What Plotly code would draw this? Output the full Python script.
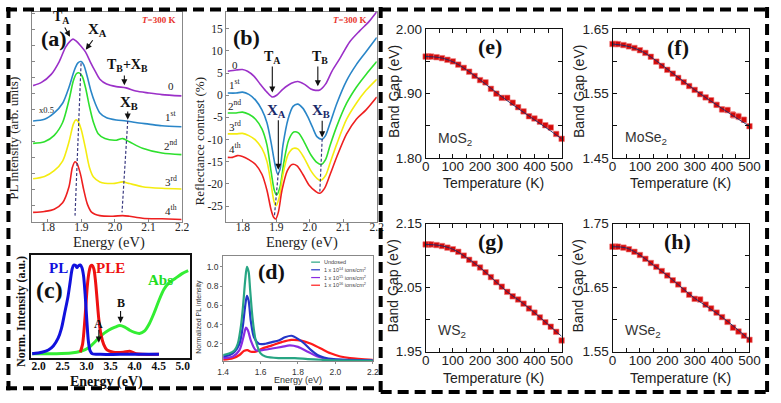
import plotly.graph_objects as go

W, H = 781, 403
SERIF = "Liberation Serif, Times New Roman, serif"
SANS = "Liberation Sans, Arial, sans-serif"

# ---------------- (a) PL spectra, arb. units (offset curves) ----------------
a0_E = [1.756,1.781,1.810,1.834,1.853,1.868,1.875,1.883,1.897,1.912,1.926,1.941,1.955,1.975,2.004,2.033,2.062,2.101,2.140,2.198]
a0_I = [42.4,43.4,45.9,49.9,54.4,56.4,56.9,56.4,54.9,52.9,49.9,46.9,44.4,42.9,42.1,41.7,40.7,40.1,39.6,39.2]
a1_E = [1.756,1.790,1.819,1.844,1.863,1.878,1.889,1.899,1.907,1.917,1.928,1.941,1.955,1.975,2.004,2.033,2.062,2.101,2.140,2.198]
a1_I = [31.4,31.9,33.9,36.9,41.9,46.9,49.4,49.9,48.9,45.4,40.9,36.9,33.9,32.4,31.7,31.4,30.9,30.4,29.9,29.6]
a2_E = [1.756,1.790,1.819,1.844,1.863,1.876,1.885,1.892,1.902,1.912,1.924,1.936,1.950,1.970,2.004,2.023,2.043,2.082,2.140,2.198]
a2_I = [24.4,24.9,26.9,30.9,37.9,43.9,46.1,46.4,45.4,41.9,35.9,30.9,27.4,25.9,25.4,25.9,24.9,22.9,21.4,20.9]
a3_E = [1.756,1.790,1.819,1.844,1.863,1.876,1.883,1.889,1.899,1.912,1.924,1.936,1.955,1.994,2.023,2.043,2.082,2.140,2.198]
a3_I = [13.4,14.1,15.9,18.9,24.9,30.4,31.7,31.4,28.9,22.9,16.9,13.9,12.4,11.9,12.4,11.9,10.9,10.4,10.2]
a4_E = [1.756,1.790,1.819,1.844,1.863,1.873,1.881,1.887,1.897,1.907,1.918,1.931,1.955,1.994,2.023,2.043,2.082,2.140,2.198]
a4_I = [2.9,3.2,3.9,5.9,10.9,16.9,18.7,18.1,14.9,9.9,5.4,2.9,1.9,1.7,1.9,1.7,1.1,0.9,0.7]
layer_labels = ["0", "1<sup>st</sup>", "2<sup>nd</sup>", "3<sup>rd</sup>", "4<sup>th</sup>"]
layer_colors = ["#9b30c8", "#2a86c8", "#2ee02e", "#f4ec10", "#ee2020"]

# ---------------- (b) Reflectance contrast (%) ----------------
b0_E = [1.755,1.780,1.799,1.814,1.833,1.852,1.872,1.888,1.901,1.920,1.945,1.964,1.983,2.003,2.017,2.030,2.047,2.066,2.090,2.119,2.149,2.178,2.200]
b0_R = [5.4,5.7,5.8,5.4,4.3,2.5,0.7,-0.4,0.0,1.4,2.7,3.1,2.5,1.4,1.1,1.2,2.5,5.4,8.3,12.0,14.5,16.7,18.8]
b1_E = [1.755,1.780,1.799,1.818,1.838,1.857,1.872,1.884,1.896,1.904,1.911,1.920,1.935,1.950,1.964,1.979,1.993,2.008,2.022,2.037,2.047,2.061,2.081,2.110,2.139,2.168,2.200]
b1_R = [0.5,0.5,0.7,0.2,-1.1,-3.3,-6.2,-10.5,-15.6,-17.8,-16.7,-11.2,-5.4,-2.5,-2.0,-2.9,-4.7,-7.2,-9.4,-9.9,-9.1,-6.2,-1.8,3.3,6.9,9.8,13.0]
b2_E = [1.755,1.780,1.799,1.818,1.838,1.857,1.872,1.884,1.894,1.901,1.911,1.923,1.937,1.952,1.966,1.983,2.003,2.022,2.034,2.047,2.061,2.081,2.110,2.139,2.168,2.200]
b2_R = [-4.0,-4.0,-3.8,-4.3,-5.4,-7.6,-11.2,-17.0,-21.4,-22.5,-20.7,-14.9,-10.1,-8.3,-8.5,-10.5,-13.4,-15.2,-15.6,-14.5,-11.2,-6.9,-1.8,1.8,4.7,7.6]
b3_E = [1.755,1.780,1.799,1.818,1.838,1.857,1.872,1.884,1.893,1.899,1.908,1.920,1.935,1.950,1.964,1.983,2.003,2.022,2.032,2.047,2.061,2.081,2.110,2.139,2.168,2.200]
b3_R = [-8.7,-8.7,-8.6,-9.1,-10.1,-12.0,-14.9,-19.9,-23.9,-24.9,-23.2,-17.8,-13.4,-12.0,-12.1,-14.1,-17.0,-18.8,-19.2,-18.1,-15.2,-10.9,-5.4,-1.8,1.1,3.6]
b4_E = [1.755,1.769,1.784,1.799,1.818,1.838,1.857,1.872,1.884,1.892,1.898,1.906,1.917,1.933,1.947,1.962,1.979,1.998,2.018,2.030,2.044,2.061,2.081,2.110,2.139,2.168,2.200]
b4_R = [-14.0,-14.0,-13.6,-13.8,-14.5,-15.6,-17.8,-21.4,-25.7,-27.5,-27.9,-26.4,-21.4,-17.0,-15.6,-15.9,-17.8,-20.3,-21.7,-22.1,-21.0,-17.8,-13.8,-8.7,-5.4,-3.3,-0.4]
b_ticks = [-25, -20, -15, -10, -5, 0, 5, 10, 15]

# ---------------- (c) PL / PLE / Abs ----------------
c_pl_E = [1.865,2.068,2.203,2.305,2.406,2.474,2.542,2.609,2.657,2.697,2.731,2.765,2.799,2.826,2.867,2.900,2.934,2.968,3.002,3.036,3.070,3.117,3.286,3.693,4.505]
c_pl_I = [0.007,0.024,0.049,0.094,0.181,0.286,0.460,0.634,0.808,0.948,0.993,0.990,0.965,0.983,0.993,0.965,0.878,0.669,0.390,0.146,0.042,0.007,0.0,0.0,0.0]
c_ple_E = [2.867,2.914,2.948,2.982,3.016,3.049,3.083,3.117,3.151,3.185,3.219,3.253,3.300,3.354,3.422,3.557,3.761,3.896,4.031,4.167,4.505]
c_ple_I = [0.024,0.111,0.286,0.530,0.774,0.913,0.983,0.990,0.948,0.808,0.599,0.390,0.216,0.111,0.049,0.024,0.024,0.035,0.007,0.0,0.0]
c_abs_E = [1.865,2.339,2.677,2.880,3.049,3.185,3.320,3.456,3.591,3.693,3.794,3.896,3.997,4.099,4.201,4.302,4.404,4.505,4.607,4.708,4.844,4.979,5.114]
c_abs_I = [0.007,0.007,0.014,0.035,0.077,0.146,0.216,0.268,0.303,0.321,0.303,0.268,0.244,0.233,0.258,0.338,0.460,0.599,0.721,0.791,0.843,0.895,0.930]
c_ticks = [2.0, 2.5, 3.0, 3.5, 4.0, 4.5, 5.0]

# ---------------- (d) Normalized PL vs dose ----------------
d_und_E = [1.4,1.435,1.461,1.478,1.496,1.508,1.518,1.527,1.536,1.544,1.557,1.574,1.6,1.626,1.696,1.783,1.852,1.922,1.991,2.2]
d_und_I = [0.083,0.1,0.133,0.2,0.4,0.633,0.867,1.0,0.95,0.767,0.467,0.233,0.1,0.067,0.05,0.05,0.04,0.033,0.027,0.023]
d14_E = [1.4,1.435,1.461,1.487,1.504,1.518,1.527,1.536,1.548,1.565,1.591,1.626,1.661,1.696,1.730,1.765,1.8,1.835,1.870,1.904,1.939,1.991,2.2]
d14_I = [0.067,0.083,0.117,0.2,0.367,0.6,0.7,0.65,0.433,0.267,0.2,0.2,0.217,0.233,0.267,0.283,0.25,0.2,0.133,0.083,0.057,0.04,0.027]
d15_E = [1.4,1.452,1.487,1.508,1.522,1.532,1.548,1.574,1.609,1.661,1.713,1.757,1.8,1.852,1.904,1.957,2.2]
d15_I = [0.05,0.067,0.133,0.267,0.367,0.34,0.233,0.133,0.133,0.15,0.167,0.183,0.167,0.117,0.067,0.04,0.023]
d16_E = [1.4,1.452,1.487,1.513,1.530,1.548,1.574,1.609,1.661,1.713,1.765,1.817,1.870,1.922,1.974,2.026,2.078,2.2]
d16_I = [0.033,0.05,0.083,0.127,0.133,0.117,0.117,0.15,0.183,0.217,0.24,0.233,0.2,0.15,0.1,0.067,0.05,0.033]
d_names = ["Undosed", "1 x 10<sup>14</sup> ions/cm<sup>2</sup>", "1 x 10<sup>15</sup> ions/cm<sup>2</sup>", "1 x 10<sup>16</sup> ions/cm<sup>2</sup>"]
d_colors = ["#27a583", "#2436c8", "#8a2be2", "#ff1a1a"]

# ---------------- (e)-(h) Band gap vs temperature ----------------
T = [0,10,20,40,60,80,100,120,140,160,180,200,220,240,260,280,300,320,340,360,380,400,420,440,460,480,500]
Eg_MoS2 = [1.9575,1.9575,1.9575,1.9565,1.955,1.9525,1.950,1.945,1.940,1.934,1.9275,1.921,1.9175,1.9075,1.900,1.8935,1.8935,1.886,1.879,1.8725,1.865,1.8615,1.8565,1.851,1.8475,1.8375,1.830]
Eg_MoSe2 = [1.627,1.627,1.6268,1.6253,1.6233,1.6208,1.6173,1.6132,1.6072,1.5996,1.5931,1.587,1.581,1.5744,1.5679,1.5618,1.5558,1.5492,1.5442,1.5397,1.5326,1.5256,1.5246,1.5171,1.5146,1.5095,1.4995]
err_MoSe2 = [0.001,0.001,0.001,0.001,0.001,0.001,0.001,0.001,0.001,0.001,0.001,0.001,0.001,0.001,0.001,0.001,0.002,0.002,0.002,0.003,0.004,0.004,0.004,0.005,0.005,0.004,0.003]
Eg_WS2 = [2.1175,2.1175,2.1175,2.1165,2.115,2.1125,2.110,2.106,2.100,2.0935,2.0875,2.0815,2.074,2.0665,2.0585,2.0515,2.0435,2.0365,2.0315,2.025,2.0175,2.011,2.0035,1.996,1.989,1.981,1.9675]
Eg_WSe2 = [1.714,1.714,1.714,1.7125,1.710,1.706,1.701,1.695,1.6885,1.6825,1.676,1.669,1.6615,1.655,1.6465,1.639,1.6325,1.6315,1.6235,1.6175,1.611,1.604,1.5965,1.5875,1.5815,1.575,1.5685]
T_fit = [0,50,100,150,200,250,300,350,400,450,500]
fit_MoS2 = [1.9575,1.956,1.9495,1.937,1.9215,1.905,1.889,1.874,1.8595,1.845,1.830]
fit_MoSe2 = [1.627,1.624,1.617,1.604,1.588,1.572,1.556,1.541,1.527,1.513,1.4995]
fit_WS2 = [2.1175,2.116,2.110,2.097,2.0815,2.0625,2.0435,2.028,2.011,1.9925,1.974]
fit_WSe2 = [1.714,1.712,1.701,1.685,1.669,1.651,1.6335,1.619,1.604,1.587,1.5685]

# ---------------- helpers ----------------
def fx(p):
    return p / W

def fy(p):
    return 1 - p / H

fig = go.Figure()

def line(x, y, color, width, ax, ay, shape="spline"):
    fig.add_trace(go.Scatter(x=x, y=y, mode="lines", xaxis=ax, yaxis=ay,
                             line=dict(color=color, width=width, shape=shape, smoothing=0.8),
                             hoverinfo="skip", showlegend=False))

# (a)
for E, I, c in zip([a0_E, a1_E, a2_E, a3_E, a4_E], [a0_I, a1_I, a2_I, a3_I, a4_I], layer_colors):
    line(E, I, c, 1.6, "x", "y")
# (b)
for E, R, c in zip([b0_E, b1_E, b2_E, b3_E, b4_E], [b0_R, b1_R, b2_R, b3_R, b4_R], layer_colors):
    line(E, R, c, 1.6, "x2", "y2")
# (c)
line(c_abs_E, c_abs_I, "#33ee33", 3, "x3", "y3")
line(c_ple_E, c_ple_I, "#ee1111", 3, "x3", "y3")
line(c_pl_E, c_pl_I, "#1111dd", 3, "x3", "y3")
# (d)
for E, I, c in zip([d16_E, d15_E, d14_E, d_und_E], [d16_I, d15_I, d14_I, d_und_I], d_colors[::-1]):
    line(E, I, c, 2.2, "x4", "y4")

# (e)-(h)
bg = [(Eg_MoS2, fit_MoS2, None, "x5", "y5"), (Eg_MoSe2, fit_MoSe2, err_MoSe2, "x6", "y6"),
      (Eg_WS2, fit_WS2, None, "x7", "y7"), (Eg_WSe2, fit_WSe2, None, "x8", "y8")]
for Eg, fit, err, ax, ay in bg:
    fig.add_trace(go.Scatter(x=T, y=Eg, mode="markers", xaxis=ax, yaxis=ay, cliponaxis=False,
                             marker=dict(symbol="square", size=5.5, color="#d40a0a",
                                         line=dict(color="rgba(240,120,120,0.6)", width=1)),
                             error_y=(dict(type="data", array=err, color="rgba(235,110,110,0.7)",
                                           thickness=1, width=2) if err else None),
                             showlegend=False, hoverinfo="skip"))
    fig.add_trace(go.Scatter(x=T_fit, y=fit, mode="lines", xaxis=ax, yaxis=ay,
                             line=dict(color="#1a2a6a", width=0.9, shape="spline"),
                             showlegend=False, hoverinfo="skip"))

# ---------------- axes ----------------
def dom(x0, x1, y0, y1):
    return dict(x=[fx(x0), fx(x1)], y=[fy(y1), fy(y0)])

def base_axis(color, width):
    return dict(showline=True, linecolor=color, linewidth=width, mirror=True,
                showgrid=False, zeroline=False, fixedrange=True)

da = dom(27, 180, 5, 223)
db = dom(225, 379, 5, 223)
dc = dom(26, 188, 258, 365)
dd = dom(222, 375, 259, 368)
de = dom(429, 568, 23, 157)
df = dom(620, 760, 23, 157)
dg = dom(429, 568, 225, 358)
dh = dom(620, 760, 225, 358)

lay = {}
e_ticks = [1.8, 1.9, 2.0, 2.1, 2.2]
lay["xaxis"] = dict(base_axis("#888", 1), domain=da["x"], anchor="y", range=[1.754, 2.2],
                    tickvals=e_ticks, ticktext=["1.8", "1.9", "2.0", "2.1", "2.2"],
                    ticks="inside", ticklen=3, tickcolor="#888", ticklabelstandoff=-5,
                    tickfont=dict(family=SERIF, size=11.5, color="#222"))
lay["yaxis"] = dict(base_axis("#888", 1), domain=da["y"], anchor="x", range=[0, 65.4],
                    dtick=5, ticks="inside", ticklen=3, tickcolor="#888", showticklabels=False)
lay["xaxis2"] = dict(base_axis("#888", 1), domain=db["x"], anchor="y2", range=[1.75, 2.2],
                     tickvals=e_ticks, ticktext=["1.8", "1.9", "2.0", "2.1", "2.2"],
                     ticks="inside", ticklen=3, tickcolor="#888", ticklabelstandoff=-5,
                     tickfont=dict(family=SERIF, size=11.5, color="#222"))
lay["yaxis2"] = dict(base_axis("#888", 1), domain=db["y"], anchor="x2", range=[-28.5, 18.8],
                     tickvals=b_ticks, ticktext=[str(v) for v in b_ticks],
                     ticks="inside", ticklen=3, tickcolor="#888",
                     tickfont=dict(family=SERIF, size=11.5, color="#222"))
lay["xaxis3"] = dict(base_axis("#111", 2), domain=dc["x"], anchor="y3", range=[1.85, 5.15],
                     tickvals=c_ticks, ticktext=["<b>%.1f</b>" % v for v in c_ticks],
                     ticks="", ticklabelstandoff=-4, tickfont=dict(family=SERIF, size=11.5, color="#111"))
lay["yaxis3"] = dict(base_axis("#111", 2), domain=dc["y"], anchor="x3", range=[-0.045, 1.10],
                     showticklabels=False, ticks="")
lay["xaxis4"] = dict(base_axis("#888", 1), domain=dd["x"], anchor="y4", range=[1.4, 2.2],
                     tickvals=[1.4, 1.6, 1.8, 2.0, 2.2], ticktext=["1.4", "1.6", "1.8", "2.0", "2.2"],
                     ticks="outside", ticklen=2, tickcolor="#888",
                     tickfont=dict(family=SANS, size=8.5, color="#333"))
lay["yaxis4"] = dict(base_axis("#888", 1), domain=dd["y"], anchor="x4", range=[0.017, 1.11],
                     tickvals=[0.2, 0.4, 0.6, 0.8, 1.0], ticktext=["0.2", "0.4", "0.6", "0.8", "1.0"],
                     ticks="outside", ticklen=2, tickcolor="#888",
                     tickfont=dict(family=SANS, size=8.5, color="#333"))

panels = [("5", de, [1.80, 2.00]), ("6", df, [1.45, 1.65]), ("7", dg, [1.95, 2.15]), ("8", dh, [1.55, 1.75])]
for k, d, yr in panels:
    lay["xaxis" + k] = dict(base_axis("#111", 1), domain=d["x"], anchor="y" + k, range=[0, 500],
                            tickvals=[0, 100, 200, 300, 400, 500], ticks="inside", ticklen=4,
                            tickcolor="#111", mirror="ticks", ticklabelstandoff=-4,
                            minor=dict(ticks="inside", ticklen=4, dtick=50, tickcolor="#111"),
                            tickfont=dict(family=SANS, size=13.5, color="#222"))
    lay["yaxis" + k] = dict(base_axis("#111", 1), domain=d["y"], anchor="x" + k, range=yr,
                            tickvals=[yr[0], yr[0] + 0.1, yr[1]],
                            ticktext=["%.2f" % yr[0], "%.2f" % (yr[0] + 0.1), "%.2f" % yr[1]],
                            ticks="inside", ticklen=4, tickcolor="#111", mirror="ticks",
                            minor=dict(ticks="inside", ticklen=4, dtick=0.05, tickcolor="#111"),
                            tickfont=dict(family=SANS, size=13.5, color="#222"))

# ---------------- annotations ----------------
ann = []

def txt(x, y, text, size, color="#111", family=SERIF, xref="x", yref="y", angle=0, xanchor="center", yanchor="middle"):
    ann.append(dict(x=x, y=y, xref=xref, yref=yref, text=text, showarrow=False, textangle=angle,
                    font=dict(family=family, size=size, color=color), xanchor=xanchor, yanchor=yanchor))

def arrow(x0, y0, x1, y1, xr, yr, w=1.1):
    ann.append(dict(x=x1, y=y1, ax=x0, ay=y0, xref=xr, yref=yr, axref=xr, ayref=yr, text="",
                    showarrow=True, arrowhead=2, arrowsize=1.1, arrowwidth=w, arrowcolor="#111"))

ann_shapes = []

def dline(x0, y0, x1, y1, xr, yr):
    ann_shapes.append(dict(type="line", x0=x0, y0=y0, x1=x1, y1=y1, xref=xr, yref=yr,
                           line=dict(color="#3a3a80", width=1.2, dash="3px,2px")))

# (a)
txt(1.819, 57.0, "<b>(a)</b>", 22)
txt(1.839, 63.6, "<b>T<sub>A</sub></b>", 14)
arrow(1.848, 61.0, 1.866, 57.6, "x", "y")
txt(1.948, 59.6, "<b>X<sub>A</sub></b>", 15)
arrow(1.937, 57.0, 1.913, 53.6, "x", "y")
txt(2.036, 48.6, "<b>T<sub>B</sub>+X<sub>B</sub></b>", 14)
arrow(2.028, 46.0, 2.028, 42.5, "x", "y")
txt(2.043, 37.0, "<b>X<sub>B</sub></b>", 15)
arrow(2.038, 34.8, 2.038, 31.8, "x", "y")
txt(1.795, 34.7, "x0.5", 8.5, "#222")
txt(2.13, 62.7, "<b><i>T</i>=300 K</b>", 9, "#e8322a")
for lbl, yy in zip(layer_labels, [42.2, 33.0, 24.0, 12.8, 3.6]):
    txt(2.166, yy, lbl, 11, "#222")
dline(1.899, 49.4, 1.881, 1.9, "x", "y")
dline(2.038, 31.4, 2.021, 2.9, "x", "y")

# (b)
txt(1.811, 13.0, "<b>(b)</b>", 22, xref="x2", yref="y2")
txt(2.119, 16.9, "<b><i>T</i>=300 K</b>", 9, "#e8322a", xref="x2", yref="y2")
for lbl, yy in zip(layer_labels, [6.9, 2.5, -2.2, -7.0, -12.0]):
    txt(1.776, yy, lbl, 11, "#222", xref="x2", yref="y2")
txt(1.886, 8.6, "<b>T<sub>A</sub></b>", 14, xref="x2", yref="y2")
arrow(1.888, 6.8, 1.888, 0.6, "x2", "y2")
txt(2.030, 8.6, "<b>T<sub>B</sub></b>", 14, xref="x2", yref="y2")
arrow(2.024, 6.8, 2.024, 2.0, "x2", "y2")
txt(1.901, -3.6, "<b>X<sub>A</sub></b>", 15, "#1a2a6a", xref="x2", yref="y2")
arrow(1.906, -5.3, 1.906, -16.8, "x2", "y2")
txt(2.034, -3.6, "<b>X<sub>B</sub></b>", 15, "#1a2a6a", xref="x2", yref="y2")
arrow(2.037, -5.4, 2.037, -9.5, "x2", "y2")
dline(1.906, -17.4, 1.894, -27.5, "x2", "y2")
dline(2.037, -9.8, 2.030, -21.7, "x2", "y2")

# (c)
txt(2.22, 0.72, "<b>(c)</b>", 24, xref="x3", yref="y3")
txt(2.41, 0.955, "<b>PL</b>", 15, "#1111dd", xref="x3", yref="y3")
txt(3.50, 0.955, "<b>PLE</b>", 15, "#ee1111", xref="x3", yref="y3")
txt(4.54, 0.826, "<b>Abs</b>", 15, "#22dd22", xref="x3", yref="y3")
txt(3.706, 0.57, "<b>B</b>", 12, xref="x3", yref="y3")
arrow(3.706, 0.50, 3.706, 0.35, "x3", "y3")
txt(3.253, 0.34, "<b>A</b>", 12, xref="x3", yref="y3")
arrow(3.253, 0.29, 3.253, 0.13, "x3", "y3")

# (d)
txt(1.661, 0.95, "<b>(d)</b>", 22, xref="x4", yref="y4")
leg_rows = [0.945, 0.872, 0.798, 0.725]
for name, col, yy in zip(d_names, d_colors, leg_rows):
    ann_shapes.append(dict(type="line", xref="x4 domain", yref="y4 domain", x0=0.588, x1=0.647,
                           y0=yy, y1=yy, line=dict(color=col, width=1.2)))
    txt(0.66, yy, name, 5.5, "#444", SANS, "x4 domain", "y4 domain", xanchor="left")

# (e)-(h)
for k, lab, mat, (lx, ly), (mx, my) in [
        ("5", "(e)", "MoS<sub>2</sub>", (236, 1.9725), (38, 1.83)),
        ("6", "(f)", "MoSe<sub>2</sub>", (238, 1.622), (38, 1.481)),
        ("7", "(g)", "WS<sub>2</sub>", (242, 2.1225), (38, 1.9825)),
        ("8", "(h)", "WSe<sub>2</sub>", (236, 1.7225), (38, 1.5825))]:
    txt(lx, ly, "<b>%s</b>" % lab, 22, "#111", SERIF, "x" + k, "y" + k)
    txt(mx, my, mat, 14, "#333", SANS, "x" + k, "y" + k, xanchor="left")

# axis titles (paper)
txt(fx(8), fy(136), "PL intensity (arb. units)", 13, "#222", SERIF, "paper", "paper", -90)
txt(fx(105), fy(245), "Energy (eV)", 14.5, "#222", SERIF, "paper", "paper")
txt(fx(198), fy(140), "Reflectance contrast (%)", 13, "#222", SERIF, "paper", "paper", -90)
txt(fx(303), fy(245), "Energy (eV)", 14.5, "#222", SERIF, "paper", "paper")
txt(fx(16), fy(316), "<b>Norm. Intensity (a.u.)</b>", 12, "#111", SERIF, "paper", "paper", -90)
txt(fx(103), fy(389), "<b>Energy (eV)</b>", 14, "#111", SERIF, "paper", "paper")
txt(fx(197), fy(322), "Normalized PL intensity", 7, "#333", SANS, "paper", "paper", -90)
txt(fx(298), fy(387), "Energy (eV)", 9, "#333", SANS, "paper", "paper")
for xx, yy in [(396, 88), (585, 88), (396, 290), (585, 290)]:
    txt(fx(xx), fy(yy), "Band Gap (eV)", 14, "#222", SANS, "paper", "paper", -90)
for xx, yy in [(498, 183), (690, 183), (498, 385), (690, 385)]:
    txt(fx(xx), fy(yy), "Temperature (K)", 14, "#222", SANS, "paper", "paper")

# dashed outer borders
dash = dict(color="#000", width=4, dash="11px,6px")
borders = [(0, 2.5, 781, 2.5), (2.5, 0, 2.5, 398), (383, 0, 383, 403), (778, 0, 778, 403),
           (0, 396, 383, 396), (383, 400, 781, 400)]
for x0, y0, x1, y1 in borders:
    ann_shapes.append(dict(type="line", xref="paper", yref="paper", x0=fx(x0), y0=fy(y0),
                           x1=fx(x1), y1=fy(y1), line=dash))

fig.update_layout(width=W, height=H, margin=dict(l=0, r=0, t=0, b=0),
                  paper_bgcolor="white", plot_bgcolor="white", showlegend=False,
                  annotations=ann, shapes=ann_shapes, **lay)
fig.write_html("out.html", config={"displayModeBar": False},
               post_script="document.body.style.margin='0';document.body.style.overflow='hidden';")
